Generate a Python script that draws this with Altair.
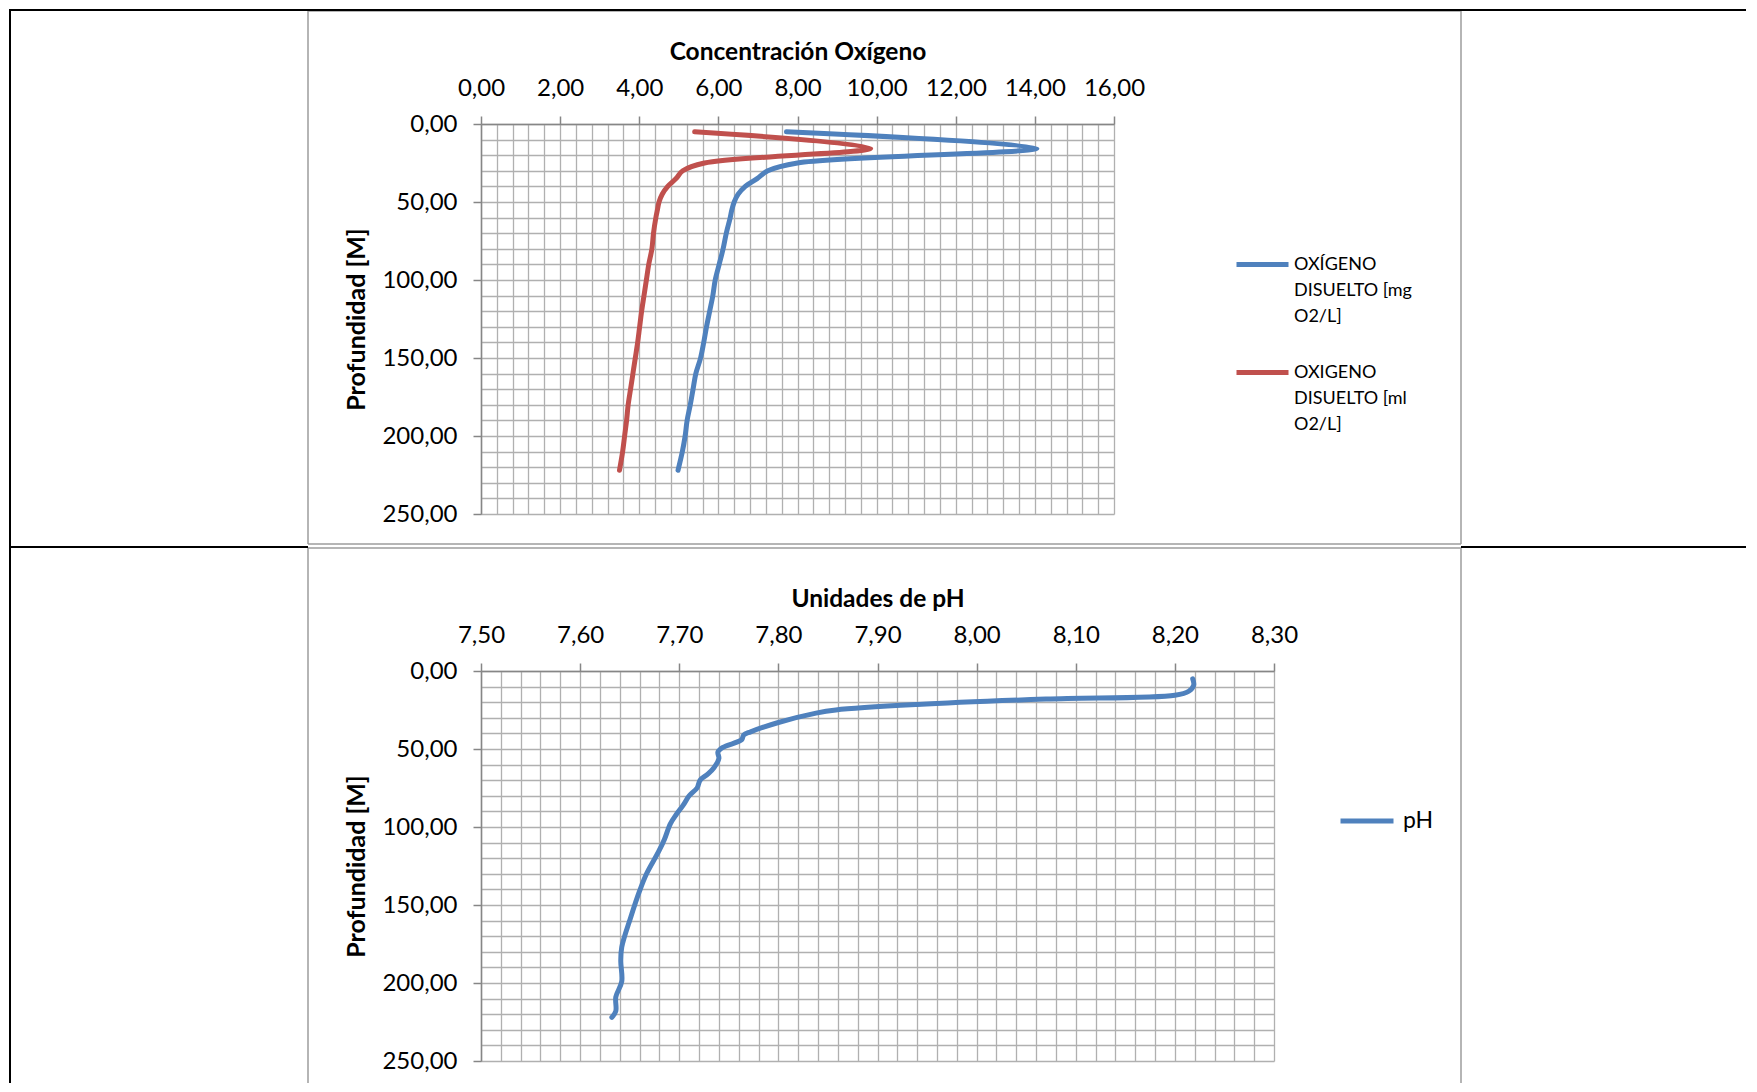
import altair as alt
import pandas as pd

# ---------------- data ----------------
depth_o2 = [5, 15.5, 25, 30, 35, 40, 45, 50, 55, 60, 70, 80, 90, 100, 110, 120,
            130, 140, 150, 160, 170, 180, 190, 200, 210, 222]
o2_mg = [7.72, 14.05, 8.0, 7.25, 6.98, 6.68, 6.5, 6.4, 6.34, 6.3, 6.2, 6.12, 6.02,
         5.92, 5.86, 5.78, 5.70, 5.63, 5.55, 5.43, 5.36, 5.29, 5.21, 5.16, 5.09, 4.98]
o2_ml = [5.4, 9.85, 5.65, 5.1, 4.93, 4.72, 4.58, 4.5, 4.46, 4.42, 4.36, 4.32, 4.24,
         4.18, 4.12, 4.06, 4.01, 3.96, 3.9, 3.84, 3.78, 3.72, 3.68, 3.63, 3.58, 3.5]
series_o2 = ["OXÍGENO DISUELTO [mg O2/L]", "OXIGENO DISUELTO [ml O2/L]"]

depth_ph = [5, 9, 13, 15.5, 18, 21.5, 25, 27, 33, 39, 41, 44, 49, 52, 56, 62, 66, 70,
            75, 80, 86, 92, 98, 108, 116, 130, 141, 158, 177, 186, 199, 209, 218, 222]
ph = [8.218, 8.219, 8.214, 8.200, 8.07, 7.94, 7.858, 7.838, 7.80, 7.772, 7.765, 7.763,
      7.744, 7.739, 7.740, 7.735, 7.729, 7.721, 7.718, 7.71, 7.704, 7.697, 7.691, 7.685,
      7.679, 7.667, 7.66, 7.651, 7.642, 7.641, 7.642, 7.636, 7.636, 7.632]
series_ph = ["pH"]

o2_domain = [0, 16]
ph_domain = [7.5, 8.3]
depth_domain = [0, 250]
o2_grid = [round(i * 0.4, 2) for i in range(41)]
ph_grid = [round(7.5 + i * 0.02, 2) for i in range(41)]
depth_grid = [i * 10 for i in range(26)]

title_o2 = "Concentración Oxígeno"
title_ph = "Unidades de pH"
title_depth = "Profundidad [M]"

# ---------------- styling ----------------
BLUE = "#4F81BD"
RED = "#C0504D"
GRID = "#b0b0b0"
AXIS = "#868686"
FONT = "Lato"
LW = 5
fmt = "replace(format(datum.value, '.2f'), '.', ',')"

df_o2 = pd.DataFrame({
    "depth": depth_o2 + depth_o2,
    "value": o2_mg + o2_ml,
    "serie": [series_o2[0]] * len(depth_o2) + [series_o2[1]] * len(depth_o2),
})
df_ph = pd.DataFrame({"depth": depth_ph, "value": ph, "serie": series_ph * len(depth_ph)})


def x_axis(values, step_test, title):
    return alt.Axis(
        orient="top", values=values, title=title, grid=True,
        gridColor=GRID, gridWidth=1.3,
        domainColor=AXIS, domainWidth=1.5,
        tickColor=AXIS, tickWidth=1.5, tickSize=8,
        tickOpacity={"condition": {"test": step_test, "value": 1}, "value": 0},
        labelExpr=f"({step_test}) ? {fmt} : ''",
        labelFont=FONT, labelFontSize=24, labelColor="black",
        labelPadding=16, labelOverlap=False, labelFlush=False,
        titleFont=FONT, titleFontSize=24.5, titleFontWeight="bold", titleColor="black",
        titlePadding=12,
    )


def y_axis():
    test = "datum.value % 50 == 0"
    return alt.Axis(
        orient="left", values=depth_grid, title=title_depth, grid=True,
        gridColor=GRID, gridWidth=1.3,
        domainColor=AXIS, domainWidth=1.5,
        tickColor=AXIS, tickWidth=1.5, tickSize=8,
        tickOpacity={"condition": {"test": test, "value": 1}, "value": 0},
        labelExpr=f"({test}) ? {fmt} : ''",
        labelFont=FONT, labelFontSize=24, labelColor="black",
        labelPadding=16, labelOverlap=False, labelFlush=False,
        titleFont=FONT, titleFontSize=25, titleFontWeight="bold", titleColor="black",
        titlePadding=12,
    )


def seg(x1, x2, y1, y2, color="black", width=2.0):
    return alt.Chart(alt.Data(values=[{}])).mark_rule(
        color=color, strokeWidth=width
    ).encode(x=alt.value(x1), x2=alt.value(x2), y=alt.value(y1), y2=alt.value(y2))


BOX = "#9c9c9c"
W1, H = 633, 390
W2 = 793
BOTTOM_END = 412

# page decorations (table + chart frames), relative to each plot area
top_decor = [
    seg(-173, 980, -113, -113, BOX, 1.5),
    seg(-173, -173, -113, 420, BOX, 1.5),
    seg(980, 980, -113, 420, BOX, 1.5),
    seg(-173, 980, 420, 420, BOX, 1.5),
    seg(-472, 1265, -114, -114),
    seg(-471, -471, -115, 424),
    seg(-472, -173, 423, 423),
    seg(980, 1265, 423, 423),
]
bot_decor = [
    seg(-173, 980, -123, -123, BOX, 1.5),
    seg(-173, -173, -123, BOTTOM_END, BOX, 1.5),
    seg(980, 980, -123, BOTTOM_END, BOX, 1.5),
    seg(-471, -471, -124, BOTTOM_END),
]

split_expr = ("[slice(datum.label, 0, indexof(datum.label, ' ')), "
              "slice(datum.label, indexof(datum.label, ' ') + 1, lastindexof(datum.label, ' ')), "
              "slice(datum.label, lastindexof(datum.label, ' ') + 1)]")

o2_lines = alt.Chart(df_o2).mark_line(
    strokeWidth=LW, interpolate="catmull-rom", strokeCap="round", strokeJoin="round"
).encode(
    x=alt.X("value:Q", scale=alt.Scale(domain=o2_domain, nice=False, zero=False),
            axis=x_axis(o2_grid, "abs(datum.value/2 - round(datum.value/2)) < 0.001", title_o2)),
    y=alt.Y("depth:Q", scale=alt.Scale(domain=depth_domain, reverse=True, nice=False),
            axis=y_axis()),
    order=alt.Order("depth:Q"),
    color=alt.Color("serie:N", scale=alt.Scale(domain=series_o2, range=[BLUE, RED]),
                    legend=alt.Legend(
                        orient="none", legendX=753, legendY=112, title=None,
                        symbolType="stroke", symbolSize=2704, symbolStrokeWidth=LW,
                        labelFont=FONT, labelFontSize=18, labelColor="black",
                        labelOffset=3, labelLimit=400, rowPadding=18, padding=0,
                        labelExpr=split_expr)),
)

ph_lines = alt.Chart(df_ph).mark_line(
    strokeWidth=LW, interpolate="catmull-rom", strokeCap="round", strokeJoin="round"
).encode(
    x=alt.X("value:Q", scale=alt.Scale(domain=ph_domain, nice=False, zero=False),
            axis=x_axis(ph_grid, "abs(datum.value*10 - round(datum.value*10)) < 0.001", title_ph)),
    y=alt.Y("depth:Q", scale=alt.Scale(domain=depth_domain, reverse=True, nice=False),
            axis=y_axis()),
    order=alt.Order("depth:Q"),
    color=alt.Color("serie:N", scale=alt.Scale(domain=series_ph, range=[BLUE]),
                    legend=alt.Legend(
                        orient="none", legendX=857, legendY=121, title=None,
                        symbolType="stroke", symbolSize=2809, symbolStrokeWidth=LW,
                        labelFont=FONT, labelFontSize=23, labelColor="black",
                        labelOffset=7, padding=0)),
)

top = alt.layer(*top_decor, o2_lines).properties(width=W1, height=H)
bottom = alt.layer(*bot_decor, ph_lines).properties(width=W2, height=H)

chart = alt.vconcat(top, bottom, spacing=157, bounds="flush").resolve_scale(
    color="independent").properties(padding=0).configure(
    view={"strokeWidth": 0}, style={"guide-label": {"lineHeight": 26}})

chart.save("out.html", embed_options={"renderer": "svg", "actions": False})
